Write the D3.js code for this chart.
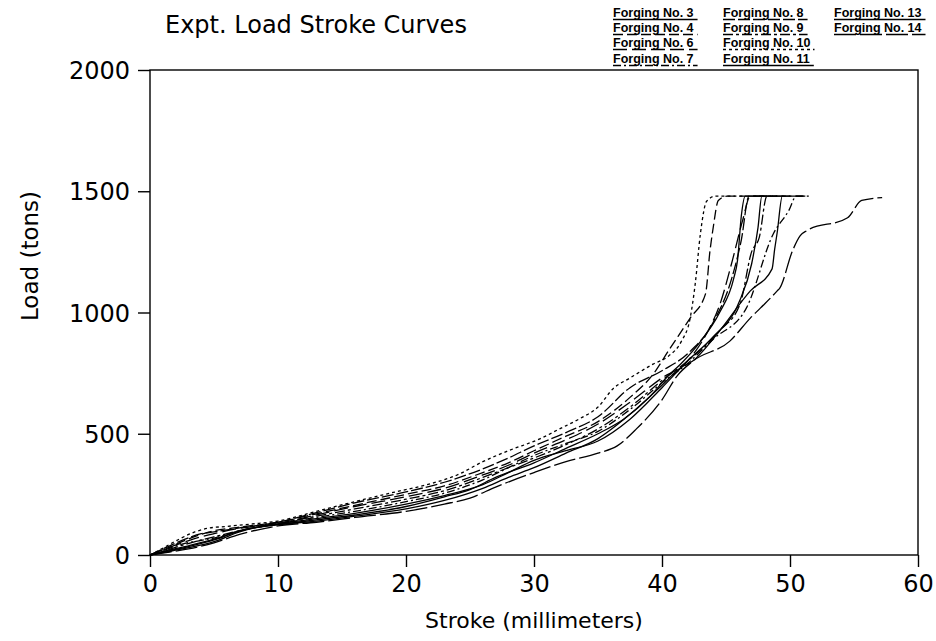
<!DOCTYPE html>
<html>
<head>
<meta charset="utf-8">
<script src="https://cdn.jsdelivr.net/npm/d3@7"></script>
<style>
  body { margin: 0; background: #fff; }
  svg { display: block; }
</style>
</head>
<body>
<div id="chart"></div>
<script>
// Load vs stroke: [stroke mm, load tons]
const forging3 = [[0,0],[1,12],[3,35],[5,62],[6.5,90],[8,112],[10,125],[13,145],[16,165],[20,200],[23,240],[25,270],[27,320],[30,380],[32.5,440],[35,500],[37,560],[39,650],[40.5,740],[41.5,790],[43,880],[44.5,1000],[45.6,1140],[45.9,1215],[46.2,1400],[46.5,1480],[48,1480]];
const forging4 = [[0,0],[1,20],[2.5,55],[4,85],[5,100],[7,115],[10,135],[13,170],[16,205],[20,250],[23,285],[26,340],[28,380],[30,430],[32.5,490],[35,550],[37.5,650],[39.3,745],[40.6,850],[42.2,977],[43.4,1077],[43.75,1255],[44,1350],[44.4,1462],[45.1,1480],[51.5,1480]];
const forging6 = [[0,0],[1,22],[2.5,50],[4,75],[5,88],[7,110],[10,130],[13,165],[16,200],[20,240],[23,275],[26,330],[28,370],[30,420],[32.5,475],[35,540],[37.5,630],[40,730],[41.8,790],[43.5,915],[44.5,1030],[45.5,1215],[46.3,1380],[46.9,1480],[49,1480]];
const forging7 = [[0,0],[1,18],[2.5,45],[4,60],[5,70],[7,100],[10,128],[13,155],[16,180],[20,220],[23,255],[26,310],[28,360],[30,410],[32.5,460],[35,510],[37.5,600],[40,710],[42,790],[44,890],[46.6,1019],[48.7,1325],[49.9,1420],[50.5,1480],[51.5,1480]];
const forging8 = [[0,0],[1,25],[2.5,60],[4,88],[5,95],[7,112],[10,135],[13,175],[16,215],[20,260],[23,300],[26,355],[28,400],[30,450],[32.5,505],[35,570],[37.5,690],[40,760],[42,830],[44,960],[45.5,1150],[46.2,1300],[46.8,1480],[48.5,1480]];
const forging9 = [[0,0],[1,15],[2.5,40],[4,62],[5,75],[7,100],[10,130],[13,160],[16,190],[20,230],[23,265],[26,320],[28,360],[30,400],[32.5,455],[35,520],[37.5,610],[40,720],[42,800],[44.5,925],[46.1,1035],[47,1250],[47.6,1310],[48.2,1480],[50,1480]];
const forging10 = [[0,0],[1,28],[2.3,66],[3.5,95],[4.5,110],[6,118],[8,128],[10,140],[13,180],[16,220],[19,258],[22,295],[24,330],[26,385],[28,430],[30.5,480],[32,520],[33.6,563],[35,610],[36.2,687],[37.5,730],[39.3,787],[40.5,820],[41.5,880],[42.2,977],[42.6,1120],[43,1325],[43.5,1460],[44.2,1480],[46.5,1480]];
const forging11 = [[0,0],[1,14],[3,38],[5,65],[7,100],[10,128],[13,150],[16,172],[20,210],[23,245],[26,290],[28,340],[30,390],[32.5,430],[35,470],[37.5,560],[40,690],[42,800],[44,900],[46,1040],[47,1200],[47.5,1350],[47.8,1480],[49.5,1480]];
const forging13 = [[0,0],[1,10],[3,30],[5,55],[7,95],[8.5,115],[10,125],[13,140],[16,160],[20,190],[23,225],[26,275],[28,320],[30,360],[32.5,420],[35,480],[37.5,580],[40,700],[41.4,770],[42.4,800],[44.3,911],[46.9,1089],[48.6,1180],[48.8,1260],[49,1330],[49.4,1480],[51,1480]];
const forging14 = [[0,0],[1,8],[3,25],[5,50],[7,85],[9,110],[10,120],[13,135],[16,155],[20,180],[23,210],[25,235],[27,280],[30,340],[32.5,385],[35,420],[36.5,450],[38,520],[40,640],[41.2,740],[42.4,799],[45.3,882],[46.9,977],[47.7,1019],[49,1089],[49.2,1101],[50.2,1255],[50.8,1317],[51.3,1337],[54.5,1391],[55.6,1462],[57.2,1474]];

const seriesNames = ['Forging No. 3', 'Forging No. 4', 'Forging No. 6', 'Forging No. 7',
  'Forging No. 8', 'Forging No. 9', 'Forging No. 10', 'Forging No. 11',
  'Forging No. 13', 'Forging No. 14'];
const seriesData = [forging3, forging4, forging6, forging7, forging8, forging9,
  forging10, forging11, forging13, forging14];
const seriesDash = [null, '10,4', '14,5', '8,3,2,3', '12,3', '10,3,3,3', '3,3', null, null, '22,4'];

const xTicks = [0, 10, 20, 30, 40, 50, 60];
const yTicks = [0, 500, 1000, 1500, 2000];

const width = 936, height = 641;
const svg = d3.select('#chart').append('svg')
  .attr('width', width)
  .attr('height', height);

const x = d3.scaleLinear().domain([0, 60]).range([150, 918]);
const y = d3.scaleLinear().domain([0, 2000]).range([555, 70]);

const font = 'DejaVu Sans, sans-serif';

// frame
svg.append('rect')
  .attr('x', x(0)).attr('y', y(2000))
  .attr('width', x(60) - x(0)).attr('height', y(0) - y(2000))
  .attr('fill', 'none').attr('stroke', '#000').attr('stroke-width', 1.4);

// axes
const xAxis = svg.append('g')
  .attr('transform', `translate(0,${y(0)})`)
  .call(d3.axisBottom(x).tickValues(xTicks).tickSize(12).tickPadding(8).tickFormat(d3.format('d')));
const yAxis = svg.append('g')
  .attr('transform', `translate(${x(0)},0)`)
  .call(d3.axisLeft(y).tickValues(yTicks).tickSize(12).tickPadding(8).tickFormat(d3.format('d')));

[xAxis, yAxis].forEach(g => {
  g.select('.domain').remove();
  g.selectAll('line').attr('stroke', '#000').attr('stroke-width', 1.4);
  g.selectAll('text').attr('fill', '#000').attr('font-family', font).attr('font-size', 24);
});
xAxis.selectAll('text').attr('dy', '0.72em');
yAxis.selectAll('text').attr('dy', '0.36em');

// curves
const line = d3.line()
  .x(d => x(d[0]))
  .y(d => y(d[1]))
  .curve(d3.curveMonotoneX);

svg.append('g')
  .selectAll('path')
  .data(seriesData)
  .join('path')
  .attr('d', line)
  .attr('fill', 'none')
  .attr('stroke', '#000')
  .attr('stroke-width', 1.3)
  .attr('stroke-dasharray', (d, i) => seriesDash[i]);

// titles
svg.append('text')
  .attr('x', 165).attr('y', 33)
  .attr('font-family', font).attr('font-size', 24)
  .text('Expt. Load Stroke Curves');

svg.append('text')
  .attr('x', (x(0) + x(60)) / 2).attr('y', 628)
  .attr('text-anchor', 'middle')
  .attr('font-family', font).attr('font-size', 22)
  .text('Stroke (millimeters)');

svg.append('text')
  .attr('transform', 'translate(38,256) rotate(-90)')
  .attr('text-anchor', 'middle')
  .attr('font-family', font).attr('font-size', 23)
  .text('Load (tons)');

// legend: 4 rows per column, underline drawn in the series' line style
const legendCols = [613, 723, 834];
const legendRows = [17, 32, 47, 63];
const legend = svg.append('g');
seriesNames.forEach((name, i) => {
  const lx = legendCols[Math.floor(i / 4)];
  const ly = legendRows[i % 4];
  const t = legend.append('text')
    .attr('x', lx).attr('y', ly)
    .attr('font-family', 'Liberation Sans, Arial, sans-serif')
    .attr('font-weight', 700)
    .attr('font-size', 12.5)
    .text(name);
  const w = t.node().getComputedTextLength();
  legend.append('line')
    .attr('x1', lx).attr('x2', lx + w + 4)
    .attr('y1', ly + 2.5).attr('y2', ly + 2.5)
    .attr('stroke', '#000').attr('stroke-width', 1.3)
    .attr('stroke-dasharray', seriesDash[i]);
});
</script>
</body>
</html>
